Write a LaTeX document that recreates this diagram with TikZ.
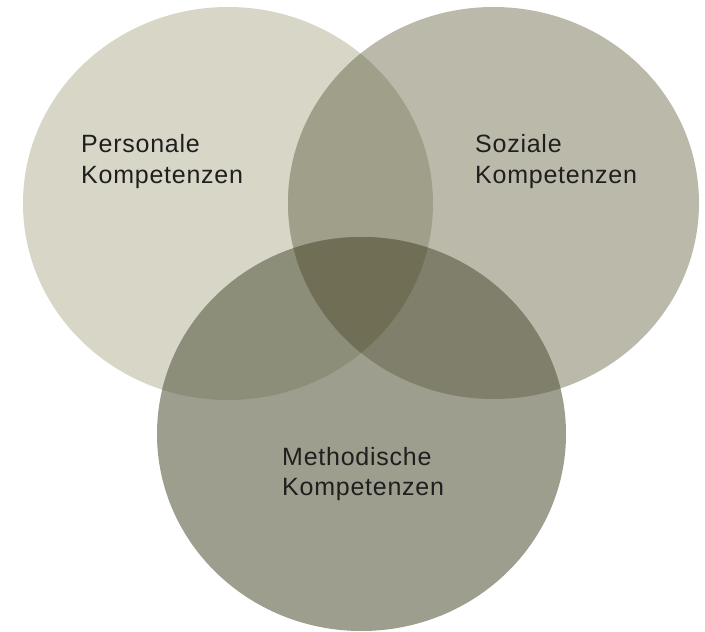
\documentclass[tikz,border=0pt]{standalone}
\usepackage{fontspec}
\setmainfont[LetterSpace=3]{Liberation Sans}
\definecolor{cL}{HTML}{D7D6C7}
\definecolor{cR}{HTML}{BBBAAA}
\definecolor{cB}{HTML}{9D9E8D}
\definecolor{cLR}{HTML}{A0A08A}
\definecolor{cLB}{HTML}{8D8E7A}
\definecolor{cRB}{HTML}{807F6B}
\definecolor{cLRB}{HTML}{706F56}
\tikzset{
  lbl/.style={anchor=base west, inner sep=0pt, text=black!88,
    font=\fontsize{25}{31}\selectfont}
}
\def\Lpath{(228,203.5) ellipse [x radius=205, y radius=196.5]}
\def\Rpath{(493.5,203) ellipse [x radius=205.5, y radius=196]}
\def\Bpath{(361.5,434) ellipse [x radius=204.5, y radius=197]}
\begin{document}
\begin{tikzpicture}[x=1pt,y=-1pt]
\useasboundingbox (0,0) rectangle (705,632);
\fill[white] (0,0) rectangle (705,632);
\fill[cL] \Lpath;
\fill[cR] \Rpath;
\fill[cB] \Bpath;
\begin{scope}\clip \Lpath; \fill[cLR] \Rpath;\end{scope}
\begin{scope}\clip \Lpath; \fill[cLB] \Bpath;\end{scope}
\begin{scope}\clip \Rpath; \fill[cRB] \Bpath;\end{scope}
\begin{scope}\clip \Lpath; \clip \Rpath; \fill[cLRB] \Bpath;\end{scope}
\node[lbl] (p1) at (81,152) {Personale};
\node[lbl] (p2) at (81,183) {Kompetenzen};
\node[lbl] (s1) at (475,152) {Soziale};
\node[lbl] (s2) at (475,183) {Kompetenzen};
\node[lbl] (m1) at (282,465) {Methodische};
\node[lbl] (m2) at (282,495) {Kompetenzen};
\end{tikzpicture}
\end{document}
